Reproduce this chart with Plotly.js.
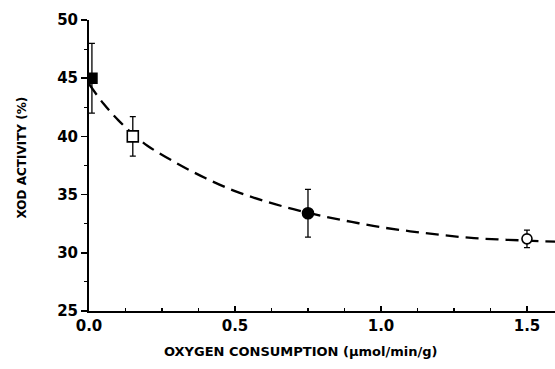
<!DOCTYPE html>
<html>
<head>
<meta charset="utf-8">
<script src="https://cdn.plot.ly/plotly-3.0.1.min.js"></script>
<style>html,body{margin:0;padding:0;background:#fff;}#chart{width:555px;height:369px;}</style>
</head>
<body>
<div id="chart"></div>
<script>
// Measured points
const pointX = [0.01, 0.15, 0.75, 1.5];
const pointY = [45.0, 40.0, 33.4, 31.2];
const pointErr = [3.0, 1.7, 2.05, 0.75];
const pointSymbols = ['square', 'square', 'circle', 'circle'];
const pointFill = ['#000', '#fff', '#000', '#fff'];
const pointSize = [10, 11, 11, 10];

// Dashed fitted curve
const curveX = [0, 0.05, 0.1, 0.15, 0.2, 0.3, 0.4, 0.5, 0.6, 0.7, 0.8, 0.9, 1.0, 1.1, 1.2, 1.3, 1.4, 1.5, 1.6];
const curveY = [44.5, 42.8, 41.4, 40.2, 39.2, 37.7, 36.4, 35.3, 34.45, 33.75, 33.15, 32.65, 32.2, 31.85, 31.55, 31.3, 31.15, 31.05, 30.95];

const xTickVals = [0, 0.5, 1.0, 1.5];
const xTickText = ['0.0', '0.5', '1.0', '1.5'];
const yTickVals = [25, 30, 35, 40, 45, 50];
const yTickText = ['25', '30', '35', '40', '45', '50'];

const xTitle = 'OXYGEN CONSUMPTION (\u00b5mol/min/g)';
const yTitle = 'XOD ACTIVITY (%)';

const font = {family: 'DejaVu Sans, Arial, sans-serif', color: '#000', weight: 'bold'};

const traces = [
  {
    x: curveX, y: curveY, mode: 'lines', type: 'scatter',
    line: {color: '#000', width: 2.3, dash: '13px,7px', shape: 'spline', smoothing: 1},
    hoverinfo: 'skip', showlegend: false
  },
  {
    x: pointX, y: pointY, mode: 'markers', type: 'scatter',
    marker: {symbol: pointSymbols, color: pointFill, size: pointSize, opacity: 1, line: {color: '#000', width: 1.6}},
    error_y: {type: 'data', array: pointErr, visible: true, color: '#000', thickness: 1.3, width: 3},
    showlegend: false
  }
];

const layout = {
  width: 555, height: 369,
  margin: {l: 89, r: 0, t: 20, b: 58},
  paper_bgcolor: '#fff', plot_bgcolor: '#fff',
  showlegend: false,
  xaxis: {
    range: [0, 1.596], showgrid: false, zeroline: false,
    showline: true, linecolor: '#000', linewidth: 2,
    tickmode: 'array', tickvals: xTickVals, ticktext: xTickText,
    ticks: 'inside', ticklen: 5, tickwidth: 1.5, tickcolor: '#000',
    minor: {dtick: 0.125, ticks: 'inside', ticklen: 3, tickwidth: 1.2, tickcolor: '#000', showgrid: false},
    tickfont: Object.assign({size: 15}, font),
    automargin: false
  },
  yaxis: {
    range: [25, 50], showgrid: false, zeroline: false,
    showline: true, linecolor: '#000', linewidth: 2,
    tickmode: 'array', tickvals: yTickVals, ticktext: yTickText,
    ticks: 'outside', ticklen: 6, tickwidth: 1.5, tickcolor: '#000',
    minor: {dtick: 2.5, ticks: 'outside', ticklen: 3, tickwidth: 1.2, tickcolor: '#000', showgrid: false},
    tickfont: Object.assign({size: 15}, font),
    automargin: false
  },
  annotations: [
    {text: '<b>' + xTitle + '</b>', xref: 'paper', yref: 'paper', x: (300 - 89) / 466, y: -(351 - 311) / 291,
     showarrow: false, xanchor: 'center', yanchor: 'middle', font: Object.assign({size: 13}, font)},
    {text: '<b>' + yTitle + '</b>', xref: 'paper', yref: 'paper', x: -(89 - 21.5) / 466, y: (311 - 158) / 291,
     showarrow: false, xanchor: 'center', yanchor: 'middle', textangle: -90, font: Object.assign({size: 12}, font)}
  ]
};

Plotly.newPlot('chart', traces, layout, {displayModeBar: false, staticPlot: true});
</script>
</body>
</html>
